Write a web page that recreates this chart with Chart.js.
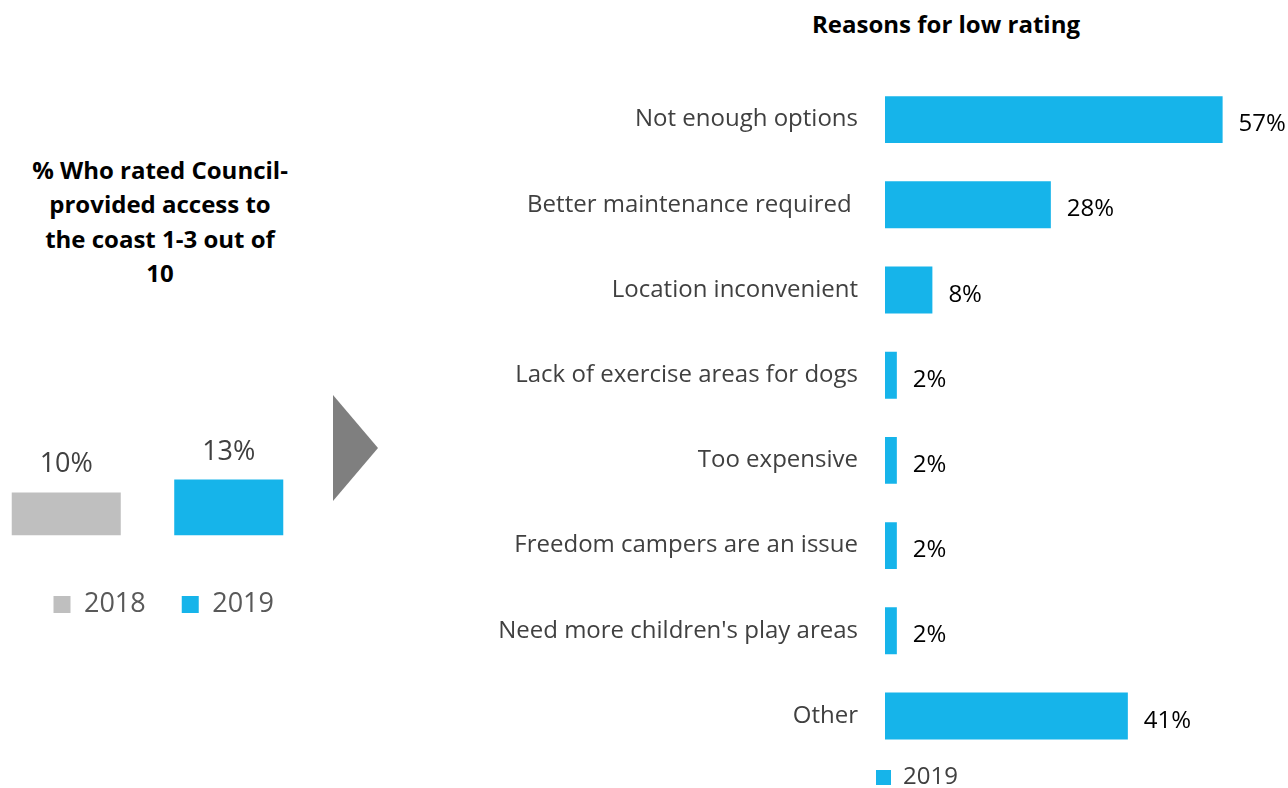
<!DOCTYPE html>
<html>
<head>
<meta charset="utf-8">
<script src="https://cdn.jsdelivr.net/npm/chart.js@4/dist/chart.umd.min.js"></script>
<style>
  html, body { margin: 0; padding: 0; width: 1288px; height: 788px; overflow: hidden; background: #fff; }
  body { position: relative; font-family: "Open Sans", sans-serif; }
  #leftTitle { position: absolute; left: 0; top: 153px; width: 320px; text-align: center;
               font-weight: bold; font-size: 24px; line-height: 34.3px; color: #000; white-space: nowrap; }
  #rightTitle { position: absolute; left: 746px; top: 8px; width: 400px; text-align: center;
                font-weight: bold; font-size: 24px; line-height: 32px; color: #000; white-space: nowrap; }
  #arrow { position: absolute; left: 333px; top: 395px; width: 0; height: 0;
           border-top: 53.5px solid transparent; border-bottom: 53.5px solid transparent;
           border-left: 45px solid #7f7f7f; }
  #leftWrap { position: absolute; left: -15px; top: 400px; width: 325px; height: 228px; }
  #rightWrap { position: absolute; left: 440px; top: 0; width: 848px; height: 800px; }
</style>
</head>
<body>
<div id="leftTitle">% Who rated Council-<br>provided access to<br>the coast 1-3 out of<br>10</div>
<div id="rightTitle">Reasons for low rating</div>
<div id="arrow"></div>
<div id="leftWrap"><canvas id="leftChart"></canvas></div>
<div id="rightWrap"><canvas id="rightChart"></canvas></div>

<script>
// ── DATA ──────────────────────────────────────────────
const years       = ['2018', '2019'];
const yearValues  = [10, 13];
const yearColors  = ['#BFBFBF', '#16B4EA'];

const reasons = [
    'Not enough options',
    'Better maintenance required ',
    'Location inconvenient',
    'Lack of exercise areas for dogs',
    'Too expensive',
    'Freedom campers are an issue',
    "Need more children's play areas",
    'Other'
];
const reasonValues = [57, 28, 8, 2, 2, 2, 2, 41];
const reasonSeries = '2019';

const BLUE = '#16B4EA';
const FONT = '"Open Sans", sans-serif';

Chart.defaults.font.family = FONT;
Chart.defaults.animation = false;

// value labels drawn next to each bar
const valueLabels = {
    id: 'valueLabels',
    afterDatasetsDraw(chart, args, opts) {
        const ctx = chart.ctx;
        ctx.save();
        ctx.font = opts.font;
        ctx.fillStyle = opts.color;
        ctx.textBaseline = 'alphabetic';
        chart.data.datasets.forEach((ds, di) => {
            chart.getDatasetMeta(di).data.forEach((bar, i) => {
                const txt = ds.data[i] + '%';
                if (opts.horizontal) {
                    ctx.textAlign = 'left';
                    ctx.fillText(txt, bar.x + 16, bar.y + 11.5);
                } else {
                    ctx.textAlign = 'center';
                    ctx.fillText(txt, bar.x, bar.y - 20);
                }
            });
        });
        ctx.restore();
    }
};

// pull the legend a little left of the plot edge, like the original
const legendShift = {
    id: 'legendShift',
    afterLayout(chart, args, opts) {
        if (chart.legend) chart.legend.left += opts.dx || 0;
    }
};

// ── LEFT: 2018 vs 2019 ───────────────────────────────
new Chart(document.getElementById('leftChart'), {
    type: 'bar',
    data: {
        labels: [''],
        datasets: years.map((y, i) => ({
            label: y,
            data: [yearValues[i]],
            backgroundColor: yearColors[i],
            borderWidth: 0,
            categoryPercentage: 1,
            barPercentage: 0.671
        }))
    },
    options: {
        responsive: true,
        maintainAspectRatio: false,
        layout: { padding: 0 },
        plugins: {
            legend: {
                position: 'bottom',
                align: 'end',
                fullSize: false,
                labels: {
                    boxWidth: 17, boxHeight: 17, padding: 36,
                    color: '#595959', font: { size: 27, family: FONT }
                }
            },
            tooltip: { enabled: false },
            valueLabels: { font: '27px ' + FONT, color: '#404040' }
        },
        scales: {
            x: {
                display: true,
                grid: { display: false },
                border: { display: false },
                ticks: { display: false },
                afterFit: s => { s.height = 19.5; }
            },
            y: { display: false, min: 0, max: 31.5 }
        }
    },
    plugins: [valueLabels]
});

// ── RIGHT: reasons for low rating ────────────────────
new Chart(document.getElementById('rightChart'), {
    type: 'bar',
    data: {
        labels: reasons,
        datasets: [{
            label: reasonSeries,
            data: reasonValues,
            backgroundColor: BLUE,
            borderWidth: 0,
            categoryPercentage: 1,
            barPercentage: 0.551
        }]
    },
    options: {
        indexAxis: 'y',
        responsive: true,
        maintainAspectRatio: false,
        layout: { padding: { top: 77, right: 18, left: 0, bottom: 0 } },
        plugins: {
            legend: {
                position: 'bottom',
                align: 'start',
                fullSize: false,
                labels: {
                    boxWidth: 15, boxHeight: 15, padding: 7,
                    color: '#404040', font: { size: 24, family: FONT }
                }
            },
            legendShift: { dx: -16 },
            tooltip: { enabled: false },
            valueLabels: { horizontal: true, font: '24px ' + FONT, color: '#000000' }
        },
        scales: {
            x: { display: false, min: 0, max: 65 },
            y: {
                grid: { display: false, drawTicks: false },
                border: { display: false },
                ticks: { color: '#404040', padding: 27, autoSkip: false, font: { size: 24, family: FONT } },
                afterFit: s => { s.width = 445; }
            }
        }
    },
    plugins: [valueLabels, legendShift]
});
</script>
</body>
</html>
